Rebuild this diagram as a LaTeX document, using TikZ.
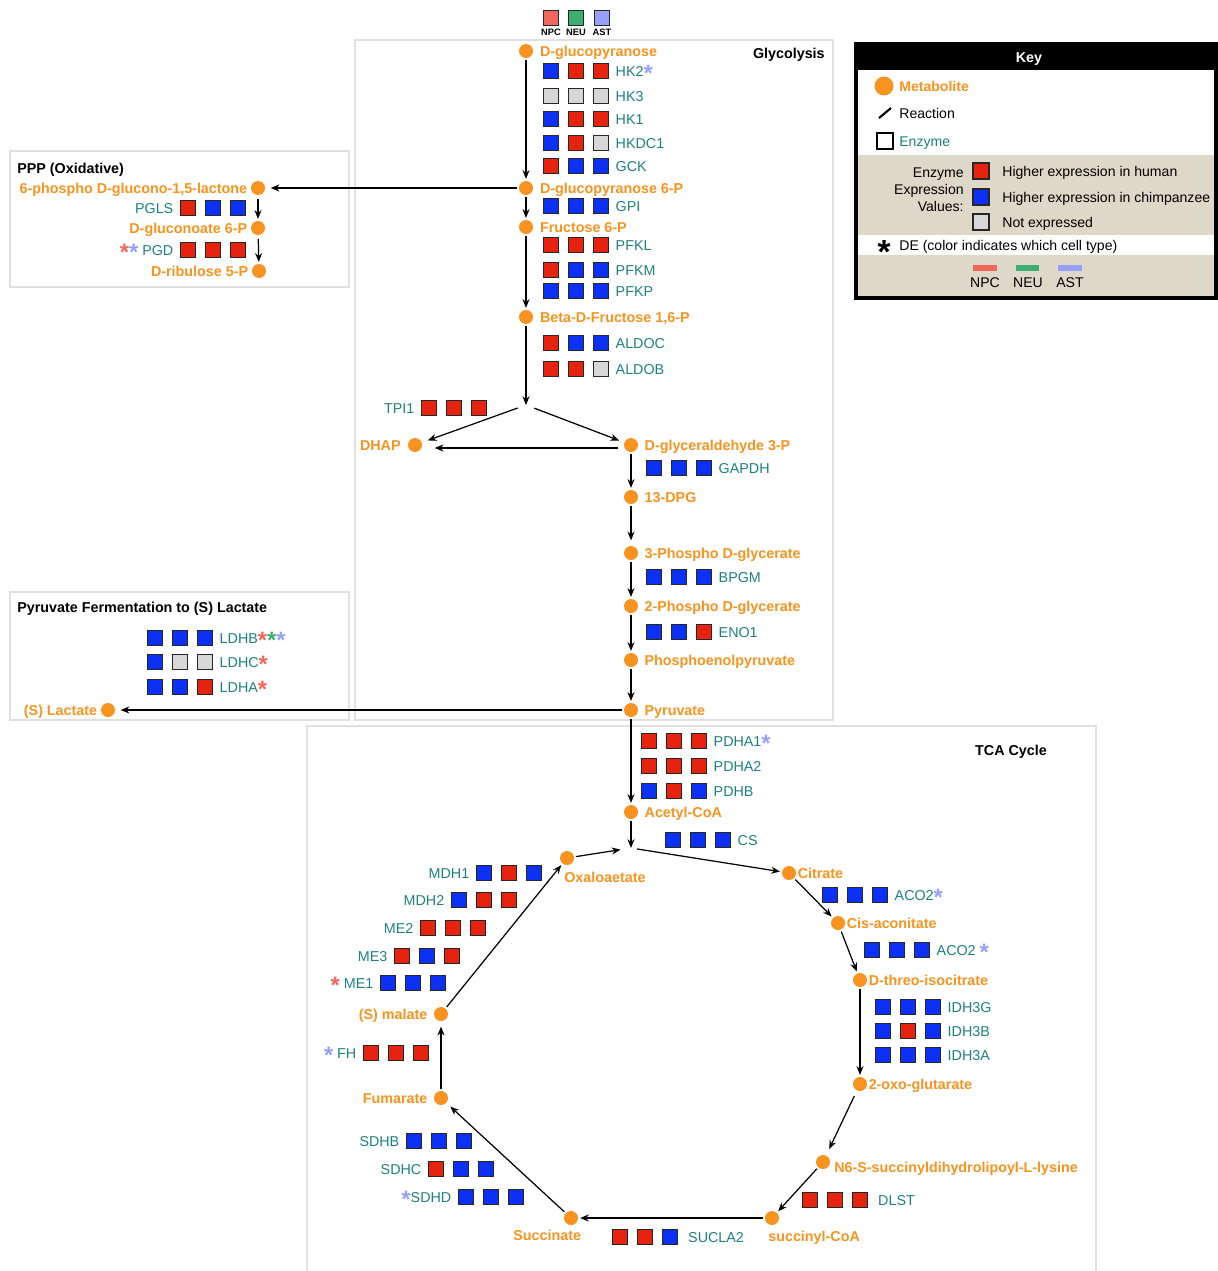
\documentclass[tikz,border=0pt]{standalone}
\usepackage{fontspec}
\setmainfont{Liberation Sans}
\usetikzlibrary{arrows.meta,positioning}

\definecolor{metor}{RGB}{247,147,30}
\definecolor{enzteal}{RGB}{28,128,128}
\definecolor{hum}{RGB}{230,35,15}
\definecolor{chp}{RGB}{12,48,245}
\definecolor{nex}{RGB}{215,215,215}
\definecolor{npc}{RGB}{242,102,92}
\definecolor{neu}{RGB}{60,175,112}
\definecolor{ast}{RGB}{150,160,250}
\definecolor{keybg}{RGB}{222,216,200}

\newcommand\basefs{\fontsize{8.15}{9.8}\selectfont}
\newcommand\keyfs{\fontsize{8}{9.6}\selectfont}
\newcommand\dstar[1]{\textcolor{#1}{\fontsize{13.5}{14}\selectfont\bfseries\raisebox{-2.8pt}{*}}}

% three expression squares, label on the right / on the left
\newcommand\enzrow[7]{%
  \node[sq, fill=#4] (#1a) at (#2,#3) {};
  \node[sq, fill=#5] (#1b) at (#2+25,#3) {};
  \node[sq, fill=#6] (#1c) at (#2+50,#3) {};
  \node[enz, right=3.6pt of #1c] (#1) {#7};}
\newcommand\enzrowl[7]{%
  \node[sq, fill=#4] (#1a) at (#2,#3) {};
  \node[sq, fill=#5] (#1b) at (#2+25,#3) {};
  \node[sq, fill=#6] (#1c) at (#2+50,#3) {};
  \node[enz, left=3.6pt of #1a] (#1) {#7};}

\tikzset{
  met/.style={circle, fill=metor, inner sep=0pt, minimum size=0.28cm},
  mlab/.style={text=metor, font=\basefs\bfseries, inner sep=0pt, text height=5.8pt, text depth=0pt},
  enz/.style={text=enzteal, font=\basefs, inner sep=0pt, text height=5.8pt, text depth=0pt},
  txt/.style={font=\keyfs, inner sep=0pt, text height=5.7pt, text depth=0pt},
  ttl/.style={font=\basefs\bfseries, inner sep=0pt, text height=5.8pt, text depth=0pt},
  sq/.style={draw=black!85, line width=0.6pt, minimum size=0.3cm, inner sep=0pt},
  rx/.style={-{Stealth[length=5pt,width=4pt]}, line width=0.7pt, shorten >=1pt, shorten <=1pt},
  sect/.style={draw=black!12, line width=0.6pt},
}

\begin{document}
\begin{tikzpicture}[x=0.02cm, y=-0.02cm, font=\basefs]
\useasboundingbox (0,0) rectangle (1217,1271);

% section frames
\draw[sect] (355,40) rectangle (833,720);
\draw[sect] (10,151) rectangle (349,287);
\draw[sect] (10,592) rectangle (349,720);
\draw[sect] (307,1271) -- (307,726) -- (1096,726) -- (1096,1271);
\node[ttl, anchor=east] (glyt) at (825,53) {Glycolysis};
\node[ttl, anchor=west] (pppt) at (17,168) {PPP (Oxidative)};
\node[ttl, anchor=west] (fert) at (17,607) {Pyruvate Fermentation to (S) Lactate};
\node[ttl] (tcat) at (1011,750) {TCA Cycle};

% cell type columns
\node[sq, fill=npc] (cnpc) at (551,18) {};
\node[sq, fill=neu] (cneu) at (576,18) {};
\node[sq, fill=ast] (cast) at (602,18) {};
\node[font=\fontsize{5.3}{6}\selectfont\bfseries, inner sep=0pt] (cnpcl) at (551,32) {NPC};
\node[font=\fontsize{5.3}{6}\selectfont\bfseries, inner sep=0pt] (cneul) at (576,32) {NEU};
\node[font=\fontsize{5.3}{6}\selectfont\bfseries, inner sep=0pt] (castl) at (602,32) {AST};

% glycolysis
\node[met] (glc) at (526,51) {};
\node[mlab, right=3.6pt of glc] (glcl) {D-glucopyranose};
\node[met] (g6p) at (526,188) {};
\node[mlab, right=3.6pt of g6p] (g6pl) {D-glucopyranose 6-P};
\node[met] (f6p) at (526,227) {};
\node[mlab, right=3.6pt of f6p] (f6pl) {Fructose 6-P};
\node[met] (fbp) at (526,317) {};
\node[mlab, right=3.6pt of fbp] (fbpl) {Beta-D-Fructose 1,6-P};
\coordinate (tsplit) at (526,405);
\node[met] (dhap) at (415,445) {};
\node[mlab, left=3.8pt of dhap] (dhapl) {DHAP};
\node[met] (gap) at (631,445) {};
\node[mlab, right=3.4pt of gap] (gapl) {D-glyceraldehyde 3-P};
\node[met] (bpg) at (631,497) {};
\node[mlab, right=3.4pt of bpg] (bpgl) {13-DPG};
\node[met] (pg3) at (631,553) {};
\node[mlab, right=3.4pt of pg3] (pg3l) {3-Phospho D-glycerate};
\node[met] (pg2) at (631,606) {};
\node[mlab, right=3.4pt of pg2] (pg2l) {2-Phospho D-glycerate};
\node[met] (pep) at (631,660) {};
\node[mlab, right=3.4pt of pep] (pepl) {Phosphoenolpyruvate};
\node[met] (pyr) at (631,710) {};
\node[mlab, right=3.4pt of pyr] (pyrl) {Pyruvate};

\enzrow{hktwo}{551}{71}{chp}{hum}{hum}{HK2\dstar{ast}}
\enzrow{hkthree}{551}{96}{nex}{nex}{nex}{HK3}
\enzrow{hkone}{551}{119}{chp}{hum}{hum}{HK1}
\enzrow{hkdc}{551}{143}{chp}{hum}{nex}{HKDC1}
\enzrow{gck}{551}{166}{hum}{chp}{chp}{GCK}
\enzrow{gpi}{551}{206}{chp}{chp}{chp}{GPI}
\enzrow{pfkl}{551}{245}{hum}{hum}{hum}{PFKL}
\enzrow{pfkm}{551}{270}{hum}{chp}{chp}{PFKM}
\enzrow{pfkp}{551}{291}{chp}{chp}{chp}{PFKP}
\enzrow{aldoc}{551}{343}{hum}{chp}{chp}{ALDOC}
\enzrow{aldob}{551}{369}{hum}{hum}{nex}{ALDOB}
\enzrowl{tpi}{429}{408}{hum}{hum}{hum}{TPI1}
\enzrow{gapdh}{654}{468}{chp}{chp}{chp}{GAPDH}
\enzrow{bpgm}{654}{577}{chp}{chp}{chp}{BPGM}
\enzrow{eno}{654}{632}{chp}{chp}{hum}{ENO1}

\draw[rx] (glc) -- (g6p);
\draw[rx] (g6p) -- (f6p);
\draw[rx] (f6p) -- (fbp);
\draw[rx, shorten >=0pt] (fbp) -- (tsplit);
\draw[rx, shorten <=5pt, shorten >=3.5pt] (tsplit) -- (dhap);
\draw[rx, shorten <=5pt, shorten >=3pt] (tsplit) -- (gap);
\draw[rx, shorten <=3pt, shorten >=7pt] ([yshift=-1.7pt]gap.west) -- ([yshift=-1.7pt]dhap.east);
\draw[rx] (gap) -- (bpg);
\draw[rx, shorten >=3pt] (bpg) -- (pg3);
\draw[rx] (pg3) -- (pg2);
\draw[rx] (pg2) -- (pep);
\draw[rx] (pep) -- (pyr);

% pentose phosphate
\node[met] (pgl) at (258,188) {};
\node[mlab, left=1.8pt of pgl] (pgll) {6-phospho D-glucono-1,5-lactone};
\node[met] (gcn) at (258,228) {};
\node[mlab, left=1.8pt of gcn] (gcnl) {D-gluconoate 6-P};
\node[met] (ru5p) at (259,271) {};
\node[mlab, left=1.8pt of ru5p] (ru5pl) {D-ribulose 5-P};
\enzrowl{pgls}{188}{208}{hum}{chp}{chp}{PGLS}
\enzrowl{pgd}{188}{250}{hum}{hum}{hum}{\dstar{npc}\dstar{ast} PGD}
\draw[rx, shorten >=3pt] (g6p) -- (pgl);
\draw[rx, shorten <=2pt] (pgl) -- (gcn);
\draw[rx, shorten <=2pt] (gcn) -- (ru5p);

% fermentation
\node[met] (lac) at (108,710) {};
\node[mlab, left=1.8pt of lac] (lacl) {(S) Lactate};
\enzrow{ldhb}{155}{638}{chp}{chp}{chp}{LDHB\dstar{npc}\dstar{neu}\dstar{ast}}
\enzrow{ldhc}{155}{662}{chp}{nex}{nex}{LDHC\dstar{npc}}
\enzrow{ldha}{155}{687}{chp}{chp}{hum}{LDHA\dstar{npc}}
\draw[rx, shorten >=3pt] (pyr) -- (lac);

% TCA cycle
\node[met] (acoa) at (631,812) {};
\node[mlab, right=3.4pt of acoa] (acoal) {Acetyl-CoA};
\coordinate (tjoin) at (631,848);
\node[met] (oaa) at (567,858) {};
\node[mlab, anchor=west] (oaal) at (564,877) {Oxaloaetate};
\node[met] (cit) at (789,873) {};
\node[mlab, right=0.6pt of cit] (citl) {Citrate};
\node[met] (cis) at (838,923) {};
\node[mlab, right=0.6pt of cis] (cisl) {Cis-aconitate};
\node[met] (icit) at (860,980) {};
\node[mlab, right=0.6pt of icit] (icitl) {D-threo-isocitrate};
\node[met] (akg) at (860,1084) {};
\node[mlab, right=0.6pt of akg] (akgl) {2-oxo-glutarate};
\node[met] (n6s) at (823,1162) {};
\node[mlab, anchor=west] (n6sl) at (834,1167) {N6-S-succinyldihydrolipoyl-L-lysine};
\node[met] (scoa) at (772,1218) {};
\node[mlab, anchor=west] (scoal) at (768,1236) {succinyl-CoA};
\node[met] (suc) at (571,1218) {};
\node[mlab, anchor=west] (sucl) at (513,1235) {Succinate};
\node[met] (fum) at (441,1098) {};
\node[mlab, left=3.4pt of fum] (fuml) {Fumarate};
\node[met] (mal) at (441,1014) {};
\node[mlab, left=3.4pt of mal] (mall) {(S) malate};

\enzrow{pdhaone}{649}{741}{hum}{hum}{hum}{PDHA1\dstar{ast}}
\enzrow{pdhatwo}{649}{766}{hum}{hum}{hum}{PDHA2}
\enzrow{pdhb}{649}{791}{chp}{hum}{chp}{PDHB}
\enzrow{cs}{673}{840}{chp}{chp}{chp}{CS}
\enzrow{acoone}{830}{895}{chp}{chp}{chp}{ACO2\dstar{ast}}
\enzrow{acotwo}{872}{950}{chp}{chp}{chp}{ACO2\ \dstar{ast}}
\enzrow{idhg}{883}{1007}{chp}{chp}{chp}{IDH3G}
\enzrow{idhb}{883}{1031}{chp}{hum}{chp}{IDH3B}
\enzrow{idha}{883}{1055}{chp}{chp}{chp}{IDH3A}
\enzrow{dlst}{810}{1200}{hum}{hum}{hum}{\hspace{2pt}DLST}
\enzrow{sucla}{620}{1237}{hum}{hum}{chp}{\hspace{2pt}SUCLA2}
\enzrowl{sdhb}{414}{1141}{chp}{chp}{chp}{SDHB}
\enzrowl{sdhc}{436}{1169}{hum}{chp}{chp}{SDHC}
\enzrowl{sdhd}{466}{1197}{chp}{chp}{chp}{\dstar{ast}SDHD}
\enzrowl{fh}{371}{1053}{hum}{hum}{hum}{\dstar{ast} FH}
\enzrowl{mdhone}{484}{873}{chp}{hum}{chp}{MDH1}
\enzrowl{mdhtwo}{459}{900}{chp}{hum}{hum}{MDH2}
\enzrowl{metwo}{428}{928}{hum}{hum}{hum}{ME2}
\enzrowl{methree}{402}{956}{hum}{chp}{hum}{ME3}
\enzrowl{meone}{388}{983}{chp}{chp}{chp}{\dstar{npc} ME1}

\draw[rx] (pyr) -- (acoa);
\draw[rx, shorten >=0pt] (acoa) -- (tjoin);
\draw[rx, shorten >=6pt] (oaa) -- (tjoin);
\draw[rx, shorten <=3.5pt] (tjoin) -- (cit);
\draw[rx] (cit) -- (cis);
\draw[rx] (cis) -- (icit);
\draw[rx] (icit) -- (akg);
\draw[rx, shorten <=3.4pt, shorten >=4pt] (akg) -- (n6s);
\draw[rx] (n6s) -- (scoa);
\draw[rx] (scoa) -- (suc);
\draw[rx, shorten >=3pt] (suc) -- (fum);
\draw[rx, shorten >=3pt] (fum) -- (mal);
\draw[rx] (mal) -- (oaa);

% key
\fill[black] (856,44) rectangle (1216,70);
\fill[keybg] (856,155) rectangle (1216,235);
\fill[keybg] (856,255) rectangle (1216,298);
\draw[line width=1.8pt] (856,44) rectangle (1216,298);
\node[ttl, text=white] (keyt) at (1029,57) {Key};
\node[met, minimum size=0.38cm] (kmet) at (884,86) {};
\node[mlab, font=\keyfs\bfseries, anchor=west] (kmetl) at (899,86) {Metabolite};
\coordinate (krxa) at (879,118);
\coordinate (krxb) at (891,108);
\draw[line width=1.2pt] (krxa) -- (krxb);
\node[txt, anchor=west] (krxn) at (899,113) {Reaction};
\node[sq, draw=black, line width=1.2pt, minimum size=0.32cm, fill=white] (kenz) at (885,141) {};
\node[enz, font=\keyfs, anchor=west] (kenzl) at (899,141) {Enzyme};
\node[font=\keyfs, align=right, anchor=east, inner sep=0pt] (kval) at (964,190) {Enzyme\\Expression\\Values:};
\node[sq, fill=hum, minimum size=0.32cm] (khum) at (981,171) {};
\node[sq, fill=chp, minimum size=0.32cm] (kchp) at (981,197) {};
\node[sq, fill=nex, minimum size=0.32cm] (knex) at (981,222) {};
\node[txt, anchor=west] (khuml) at (1002,171) {Higher expression in human};
\node[txt, anchor=west] (kchpl) at (1002,197) {Higher expression in chimpanzee};
\node[txt, anchor=west] (knexl) at (1002,222) {Not expressed};
\node[font=\fontsize{19}{19}\selectfont\bfseries, inner sep=0pt] (kstar) at (884,252) {*};
\node[txt, anchor=west] (kdel) at (899,245) {DE (color indicates which cell type)};
\fill[npc] (973,265) rectangle (997,271);
\fill[neu] (1016,265) rectangle (1039,271);
\fill[ast] (1058,265) rectangle (1082,271);
\node[txt] (knpc) at (985,282) {NPC};
\node[txt] (kneu) at (1028,282) {NEU};
\node[txt] (kast) at (1070,282) {AST};
\end{tikzpicture}
\end{document}
